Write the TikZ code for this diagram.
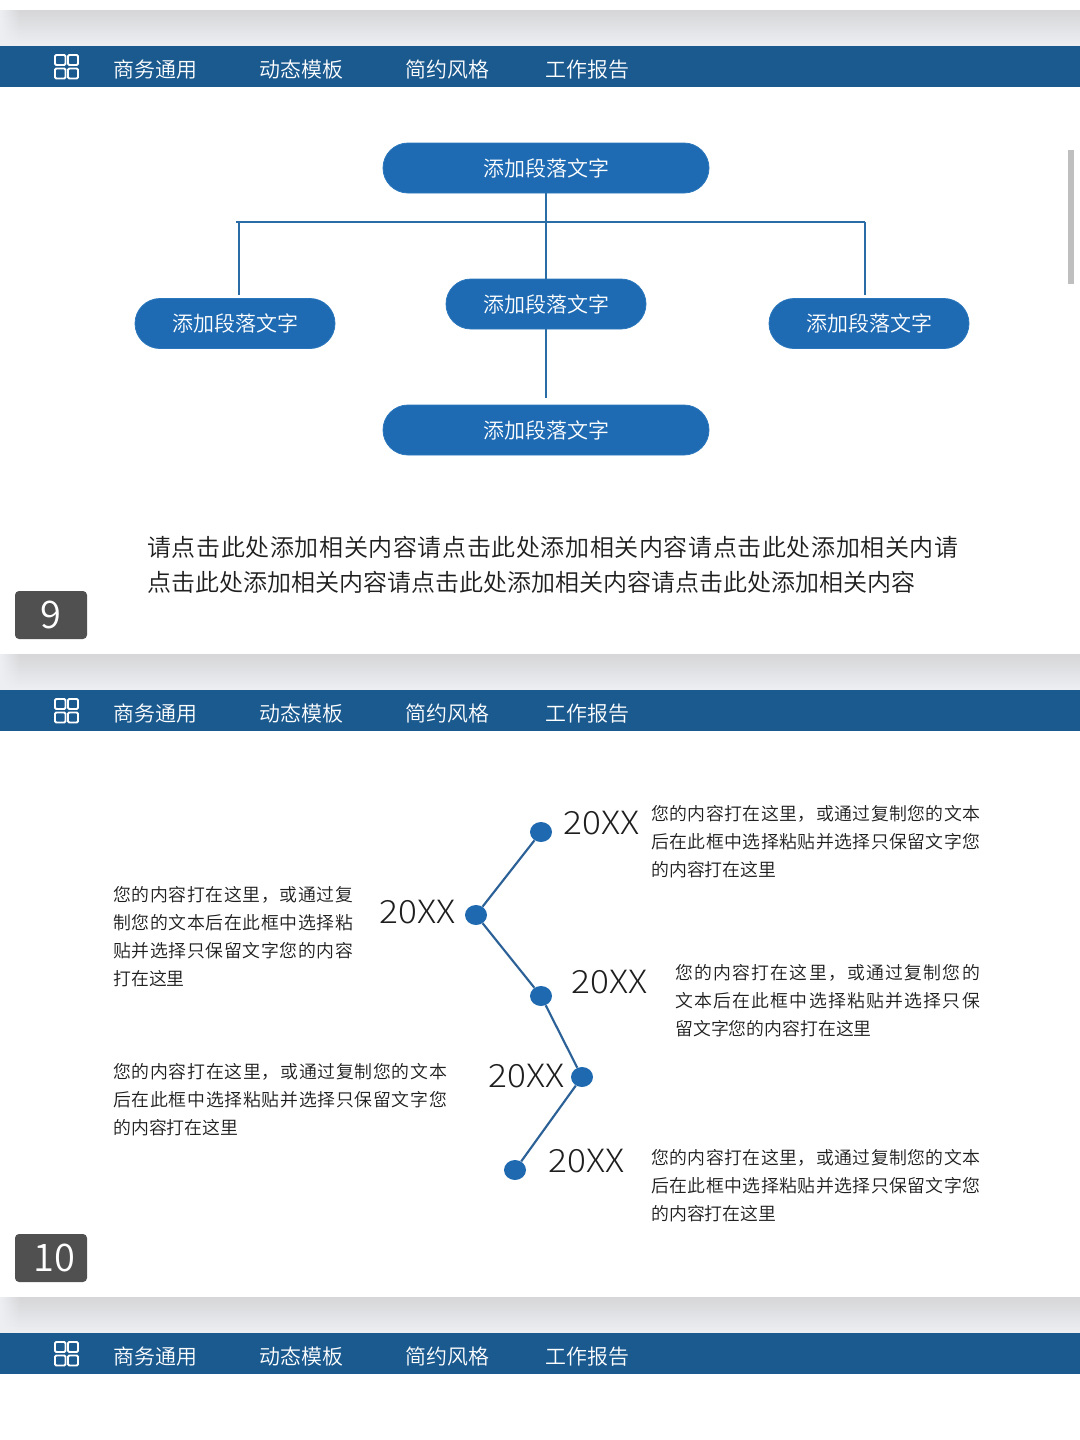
\documentclass[tikz,border=0pt]{standalone}
\usepackage{fontspec}
\setmainfont{Noto Sans CJK SC DemiLight}
\newfontfamily\wideyear[FakeStretch=1.10]{Noto Sans CJK SC Light}
\usetikzlibrary{shapes.misc,shapes.geometric,fadings}
\definecolor{barblue}{HTML}{1B5A8F}
\definecolor{pillblue}{HTML}{1F6BB3}
\definecolor{pilledge}{HTML}{2B77BD}
\definecolor{linkblue}{HTML}{2A6CA6}
\definecolor{timeblue}{HTML}{2B6197}
\definecolor{dotblue}{HTML}{1F69B0}
\definecolor{numgray}{HTML}{505050}
\definecolor{inktext}{HTML}{1E1E1E}
\definecolor{bandtop}{HTML}{D6D6D8}
\definecolor{bandlow}{HTML}{EDEFF3}
\def\px{0.75pt}
\newcommand{\lsp}[2]{{\addfontfeature{LetterSpace=#1}#2}}
\tikzset{
  x=0.75pt,y=-0.75pt,
  pill/.style={rounded rectangle,fill=pillblue,draw=pilledge,line width=0.6pt,text=white,
    minimum height=50*\px,inner sep=0pt,font=\fontsize{15.75}{18}\selectfont},
  navtext/.style={anchor=west,inner sep=0pt,text=white,font=\fontsize{15.7}{18}\selectfont},
  body/.style={anchor=west,inner sep=0pt,align=left,text=inktext,font=\fontsize{13.4}{21}\selectfont},
  para/.style={anchor=west,inner sep=0pt,align=left,text=inktext,font=\fontsize{18}{26.25}\selectfont},
  yearlabel/.style={inner sep=0pt,text=inktext,font=\wideyear\fontsize{24}{28}\selectfont},
  numbox/.style={fill=numgray,rounded corners=3pt,text=white,inner sep=0pt,
    minimum width=72*\px,minimum height=48*\px,font=\fontsize{28.5}{30}\selectfont},
  dotnode/.style={ellipse,fill=dotblue,inner sep=0pt,minimum width=22*\px,minimum height=20*\px},
  link/.style={draw=linkblue,line width=1.5pt},
  timeline/.style={draw=timeblue,line width=1.6pt},
  gridcell/.style={draw=white,line width=1.4pt,rounded corners=0.9pt},
}
\newcommand{\slidehead}[2]{%
  \shade[top color=bandtop,bottom color=bandlow] (0,#1-36) rectangle (1080,#1);
  \fill[bandlow,path fading=east] (0,#1-36) rectangle (20,#1);
  \fill[barblue] (0,#1) rectangle (1080,#1+41);
  \draw[gridcell] (55,#1+9) rectangle (65.5,#1+19);
  \draw[gridcell] (68,#1+9) rectangle (78,#1+19);
  \draw[gridcell] (55,#1+22.5) rectangle (65.5,#1+32.5);
  \draw[gridcell] (68,#1+22.5) rectangle (78,#1+32.5);
  \node[navtext] (nava#2) at (113,#1+23.7) {商务通用};
  \node[navtext] (navb#2) at (259,#1+23.7) {动态模板};
  \node[navtext] (navc#2) at (405,#1+23.7) {简约风格};
  \node[navtext] (navd#2) at (545,#1+23.7) {工作报告};
}
\begin{document}
\begin{tikzpicture}
\useasboundingbox (0,0) rectangle (1080,1440);
\fill[white] (0,0) rectangle (1080,1440);
\slidehead{46}{one}
\slidehead{690}{two}
\slidehead{1333}{three}
\fill[black!25] (1068,150) rectangle (1074,284);

% slide 9
\node[pill,minimum width=326*\px] (root) at (546,168) {\raisebox{-1.2pt}{添加段落文字}};
\node[pill,minimum width=200*\px] (left) at (235,323.5) {\raisebox{-1.2pt}{添加段落文字}};
\node[pill,minimum width=200*\px] (mid) at (546,304) {\raisebox{-1.2pt}{添加段落文字}};
\node[pill,minimum width=200*\px] (right) at (869,323.5) {\raisebox{-1.2pt}{添加段落文字}};
\node[pill,minimum width=326*\px] (bottom) at (546,430) {添加段落文字};
\coordinate (hub) at (546,222);
\coordinate (hl) at (236,222);
\coordinate (hr) at (865,222);
\coordinate (dl) at (239,222);
\coordinate (dlend) at (239,295);
\coordinate (drend) at (865,295);
\coordinate (bstop) at (546,398);
\draw[link] (root.south) -- (hub);
\draw[link] (hl) -- (hr);
\draw[link] (dl) -- (dlend);
\draw[link] (hr) -- (drend);
\draw[link] (hub) -- (mid.north);
\draw[link] (mid.south) -- (bstop);
\node[para] (ptext) at (147,564.5) {\lsp{2.5}{请点击此处添加相关内容请点击此处添加相关内容请点击此处添加相关内请}\\点击此处添加相关内容请点击此处添加相关内容请点击此处添加相关内容};
\node[numbox] (num9) at (51,615) {9};

% slide 10
\node[dotnode] (d1) at (541,832) {};
\node[dotnode] (d2) at (476,915) {};
\node[dotnode] (d3) at (541,996) {};
\node[dotnode] (d4) at (582,1077) {};
\node[dotnode] (d5) at (515,1170) {};
\draw[timeline] (d1) -- (d2);
\draw[timeline] (d2) -- (d3);
\draw[timeline] (d3) -- (d4);
\draw[timeline] (d4) -- (d5);
\node[yearlabel] (y1) at (601.5,823) {20XX};
\node[yearlabel] (y2) at (417.5,912) {20XX};
\node[yearlabel] (y3) at (609.5,982) {20XX};
\node[yearlabel] (y4) at (526.5,1076) {20XX};
\node[yearlabel] (y5) at (586.5,1161) {20XX};
\node[body] (t1) at (651,842) {\lsp{2.5}{您的内容打在这里，或通过复制您的文本}\\\lsp{2.5}{后在此框中选择粘贴并选择只保留文字您}\\的内容打在这里};
\node[body] (t2) at (113,937) {\lsp{3.6}{您的内容打在这里，或通过复}\\\lsp{3.6}{制您的文本后在此框中选择粘}\\\lsp{3.6}{贴并选择只保留文字您的内容}\\打在这里};
\node[body] (t3) at (675,1001) {\lsp{7}{您的内容打在这里，或通过复制您的}\\\lsp{7}{文本后在此框中选择粘贴并选择只保}\\留文字您的内容打在这里};
\node[body] (t4) at (113,1100) {\lsp{4}{您的内容打在这里，或通过复制您的文本}\\\lsp{4}{后在此框中选择粘贴并选择只保留文字您}\\的内容打在这里};
\node[body] (t5) at (651,1186) {\lsp{2.5}{您的内容打在这里，或通过复制您的文本}\\\lsp{2.5}{后在此框中选择粘贴并选择只保留文字您}\\的内容打在这里};
\node[numbox] (num10) at (51,1258) {\hspace{4.5pt}10};
\end{tikzpicture}
\end{document}
